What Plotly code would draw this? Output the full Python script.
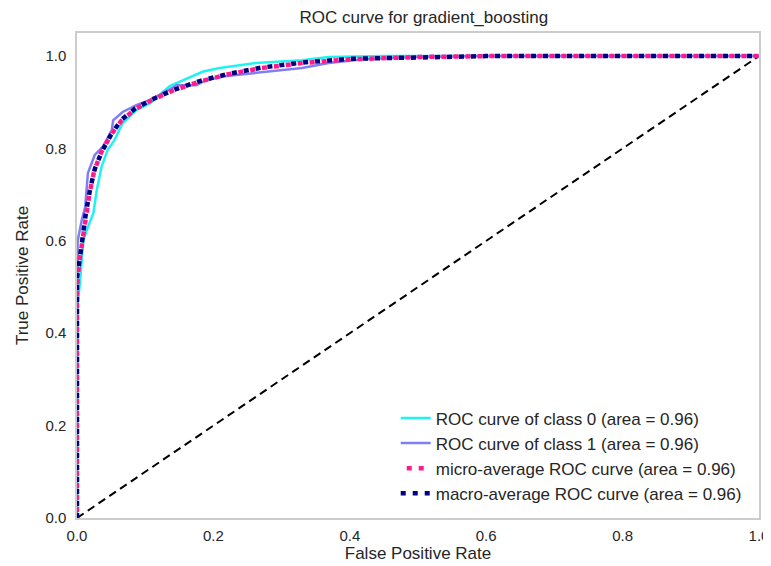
import plotly.graph_objects as go

# Data
fpr_class0 = [0.0, 0.0, 0.005, 0.009, 0.016, 0.024, 0.029, 0.036, 0.045, 0.055, 0.067, 0.087, 0.107, 0.136, 0.150, 0.184, 0.209, 0.262, 0.33, 0.369, 0.45, 0.6, 1.0]
tpr_class0 = [0.0, 0.45, 0.52, 0.60, 0.63, 0.66, 0.71, 0.76, 0.797, 0.818, 0.855, 0.883, 0.898, 0.935, 0.944, 0.966, 0.974, 0.985, 0.991, 0.998, 1.0, 1.0, 1.0]

fpr_class1 = [0.0, 0.0, 0.001, 0.007, 0.012, 0.016, 0.026, 0.038, 0.051, 0.053, 0.067, 0.087, 0.107, 0.136, 0.146, 0.175, 0.189, 0.219, 0.262, 0.33, 0.369, 0.42, 0.5, 0.6, 1.0]
tpr_class1 = [0.0, 0.55, 0.60, 0.645, 0.673, 0.747, 0.786, 0.804, 0.84, 0.861, 0.879, 0.894, 0.905, 0.928, 0.937, 0.937, 0.948, 0.957, 0.963, 0.974, 0.985, 0.993, 0.998, 1.0, 1.0]

fpr_micro = [0.0, 0.0, 0.003, 0.008, 0.012, 0.018, 0.025, 0.035, 0.05, 0.065, 0.085, 0.11, 0.14, 0.18, 0.22, 0.27, 0.33, 0.4, 0.5, 0.6, 1.0]
tpr_micro = [0.0, 0.5, 0.55, 0.60, 0.65, 0.70, 0.75, 0.79, 0.83, 0.86, 0.885, 0.905, 0.925, 0.945, 0.96, 0.974, 0.985, 0.993, 0.998, 1.0, 1.0]

fpr_macro = [0.0, 0.0, 0.004, 0.008, 0.013, 0.019, 0.026, 0.036, 0.05, 0.065, 0.085, 0.11, 0.14, 0.18, 0.22, 0.27, 0.33, 0.4, 0.5, 0.6, 1.0]
tpr_macro = [0.0, 0.52, 0.56, 0.61, 0.66, 0.71, 0.755, 0.792, 0.83, 0.862, 0.886, 0.906, 0.926, 0.946, 0.961, 0.975, 0.986, 0.994, 0.998, 1.0, 1.0]

diag = [0.0, 1.0]

tick_vals = [0, 0.2, 0.4, 0.6, 0.8, 1.0]
tick_text = ["0.0", "0.2", "0.4", "0.6", "0.8", "1.0"]

labels = [
    "ROC curve of class 0 (area = 0.96)",
    "ROC curve of class 1 (area = 0.96)",
    "micro-average ROC curve (area = 0.96)",
    "macro-average ROC curve (area = 0.96)",
]

FONT = "Liberation Sans, Arial"
TXT = "#262626"

fig = go.Figure()
fig.add_trace(go.Scatter(x=diag, y=diag, mode="lines", showlegend=False,
                         line=dict(color="black", width=2, dash="8px,5px")))
fig.add_trace(go.Scatter(x=fpr_class0, y=tpr_class0, mode="lines", name=labels[0],
                         line=dict(color="#1ff2f2", width=2.5)))
fig.add_trace(go.Scatter(x=fpr_class1, y=tpr_class1, mode="lines", name=labels[1],
                         line=dict(color="#7f7ff2", width=2.5)))
fig.add_trace(go.Scatter(x=fpr_micro, y=tpr_micro, mode="lines", name=labels[2],
                         line=dict(color="#ff1a8c", width=4.5, dash="0px,6px,5px,1px")))
fig.add_trace(go.Scatter(x=fpr_macro, y=tpr_macro, mode="lines", name=labels[3],
                         line=dict(color="#000080", width=4.5, dash="5px,7px")))

axis_common = dict(showgrid=False, zeroline=False, showline=True, mirror=True,
                   linecolor="#cccccc", linewidth=1.5, ticks="", automargin=False,
                   ticklabeloverflow="allow",
                   tickfont=dict(family=FONT, size=15, color=TXT))

fig.update_layout(
    width=763, height=558,
    margin=dict(l=69, r=12, t=25, b=48),
    paper_bgcolor="white", plot_bgcolor="white",
    font=dict(family=FONT, size=15, color=TXT),
    title=dict(text="ROC curve for gradient_boosting", x=0.545, xanchor="center",
               y=0.994, yanchor="top", font=dict(family=FONT, size=17, color=TXT)),
    xaxis=dict(range=[0, 1], tickvals=tick_vals, ticktext=tick_text, ticklabelstandoff=3,
               title=dict(text="False Positive Rate", standoff=0,
                          font=dict(family=FONT, size=17, color=TXT)), **axis_common),
    yaxis=dict(range=[0, 1.05], tickvals=tick_vals, ticktext=tick_text, ticklabelstandoff=6,
               title=dict(text="True Positive Rate", standoff=12,
                          font=dict(family=FONT, size=17, color=TXT)), **axis_common),
    legend=dict(x=0.982, y=0.0135, xanchor="right", yanchor="bottom",
                bgcolor="rgba(255,255,255,0)", borderwidth=0,
                font=dict(family=FONT, size=17, color=TXT)),
)

fig.write_html("out.html")
